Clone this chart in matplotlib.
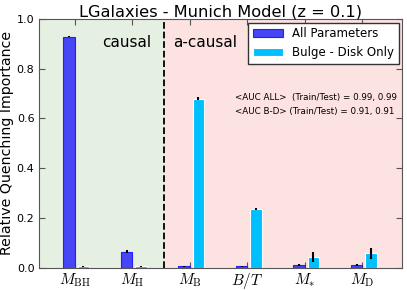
import matplotlib.pyplot as plt
import numpy as np

plt.rcParams['mathtext.fontset'] = 'cm'

labels = [r'$M_{\rm BH}$', r'$M_{\rm H}$', r'$M_{\rm B}$', r'$B/T$', r'$M_{*}$', r'$M_{\rm D}$']
all_params = [0.929, 0.065, 0.005, 0.005, 0.010, 0.012]
all_err = [0.003, 0.005, 0.001, 0.001, 0.003, 0.004]
bulge_disk = [0.005, 0.005, 0.680, 0.235, 0.044, 0.058]
bd_err = [0.001, 0.001, 0.006, 0.004, 0.021, 0.022]

fig = plt.figure(figsize=(4.07, 2.90), dpi=100)
ax = fig.add_axes([39.3/407, 1 - 267.7/290, 363/407, 248.7/290])

x = np.arange(len(labels))
w = 0.2

ax.axvspan(-1, 1.75, color='#e6f0e2', zorder=0)
ax.axvspan(1.75, 7, color='#fde2e2', zorder=0)
ax.axvline(1.75, color='k', ls='--', lw=1.3, zorder=1)

ax.bar(x, all_params, w, align='edge', color='#4646f6', edgecolor='#2020ff',
       lw=0.8, yerr=all_err, ecolor='k', error_kw=dict(lw=1.5), label='All Parameters', zorder=2)
ax.bar(x + 0.25, bulge_disk, w, align='edge', color='#00bfff', edgecolor='white',
       lw=0.8, yerr=bd_err, ecolor='k', error_kw=dict(lw=1.5), label='Bulge - Disk Only', zorder=2)

ax.set_xlim(-0.417, 5.896)
ax.set_ylim(0, 1.0)
ax.set_xticks(x + 0.2)
ax.set_xticklabels(labels, fontsize=11)
ax.set_yticks([0.0, 0.2, 0.4, 0.6, 0.8, 1.0])
ax.set_yticklabels(['0.0', '0.2', '0.4', '0.6', '0.8', '1.0'], fontsize=8)
ax.tick_params(direction='in', top=True, right=True, length=4, color='#555555')
ax.tick_params(axis='x', pad=2.5)
for s in ax.spines.values():
    s.set_color('#555555')

ax.set_ylabel('Relative Quenching Importance', fontsize=10.2, labelpad=2)
ax.set_title('LGalaxies - Munich Model (z = 0.1)', fontsize=11.7, pad=2)

ax.text(1.10, 0.905, 'causal', fontsize=11, ha='center', va='center')
ax.text(2.46, 0.905, 'a-causal', fontsize=11, ha='center', va='center')
ax.text(2.99, 0.686, '<AUC ALL>  (Train/Test) = 0.99, 0.99', fontsize=6.3, va='center')
ax.text(2.99, 0.630, '<AUC B-D> (Train/Test) = 0.91, 0.91', fontsize=6.3, va='center')

leg = ax.legend(loc='upper right', fontsize=8.5, fancybox=False, framealpha=1,
                borderaxespad=0.3, handlelength=2.5)
leg.get_frame().set_edgecolor('#333333')

fig.savefig('out.png', dpi=100)
